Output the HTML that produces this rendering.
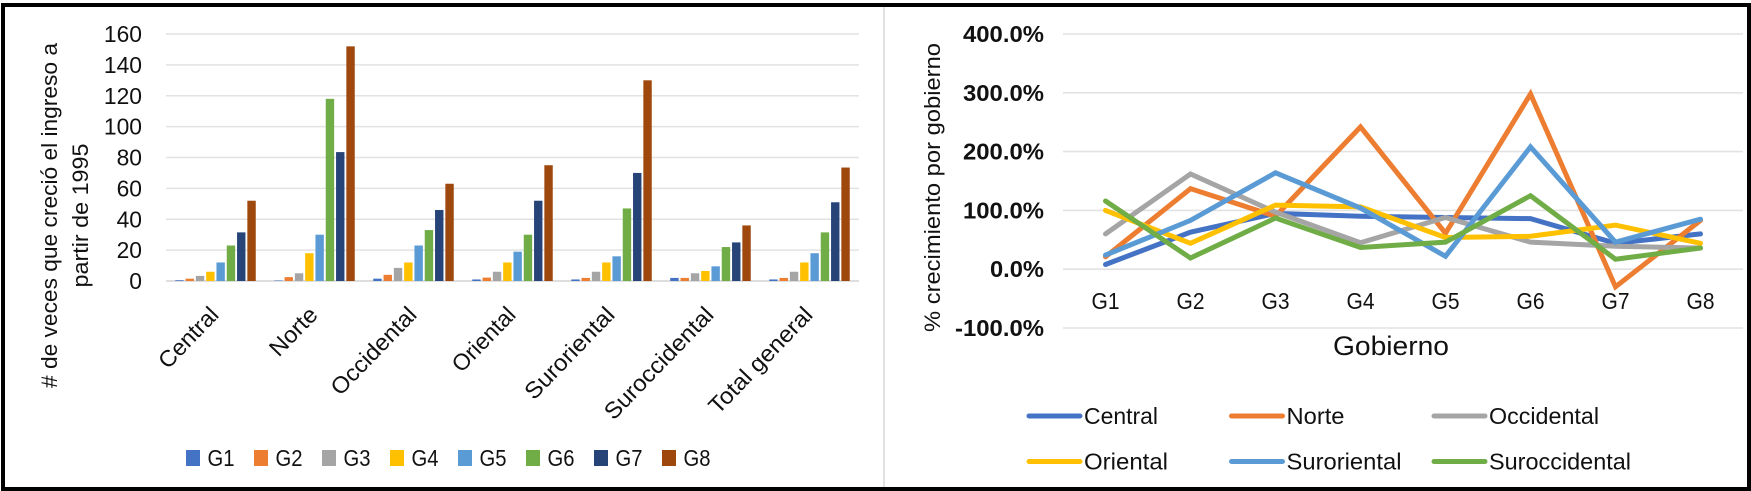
<!DOCTYPE html>
<html lang="es">
<head>
<meta charset="utf-8">
<title>Crecimiento del ingreso</title>
<style>
html,body{margin:0;padding:0;background:#fff;width:1751px;height:491px;overflow:hidden}
svg{display:block;font-family:"Liberation Sans",sans-serif;filter:blur(0.35px)}
text{fill:#111}
</style>
</head>
<body>
<svg id="root" width="1751" height="491" viewBox="0 0 1751 491">
  <rect x="0" y="0" width="1751" height="491" fill="#fff"/>
  <rect x="883" y="7" width="2" height="480" fill="#e2e2e2"/>
  <g id="bars"></g>
  <g id="lines"></g>
  <path d="M3 5H1749V489H3Z" fill="none" stroke="#000" stroke-width="4"/>
</svg>
<script>
// ---- bar chart data ----
const barCategories = ["Central","Norte","Occidental","Oriental","Suroriental","Suroccidental","Total general"];
const barSeriesNames = ["G1","G2","G3","G4","G5","G6","G7","G8"];
const barG1 = [0.5,0.3,1.5,1,1,2,1];
const barG2 = [1.5,2.5,4,2.2,2,2,2];
const barG3 = [3.3,5,8.5,6,6,5,6];
const barG4 = [6,18,12,12,12,6.5,12];
const barG5 = [12,30,23,19,16,9.5,18];
const barG6 = [23,118,33,30,47,22,31.5];
const barG7 = [31.5,83.5,46,52,70,25,51];
const barG8 = [52,152,63,75,130,36,73.5];
const barTicks = [0,20,40,60,80,100,120,140,160];
const barAxisTitleLine1 = "# de veces que creció el ingreso a";
const barAxisTitleLine2 = "partir de 1995";

// ---- line chart data ----
const lineCategories = ["G1","G2","G3","G4","G5","G6","G7","G8"];
const lineCentral = [8,63,95,90,88,86,44,60];
const lineNorte = [21,137,90,242,61,298,-30,83];
const lineOccidental = [60,162,97,45,88,46,39,36];
const lineOriental = [100,44,109,106,54,56,75,44];
const lineSuroriental = [24,83,164,104,22,208,46,85];
const lineSuroccidental = [116,19,87,37,46,125,17,36];
const lineTicks = [-100,0,100,200,300,400];
const lineNames = ["Central","Norte","Occidental","Oriental","Suroriental","Suroccidental"];
const lineAxisTitle = "% crecimiento por gobierno";
const lineXTitle = "Gobierno";

const barSeries = [barG1,barG2,barG3,barG4,barG5,barG6,barG7,barG8];
const lineSeries = [lineCentral,lineNorte,lineOccidental,lineOriental,lineSuroriental,lineSuroccidental];
const barColors = ["#4472c4","#ed7d31","#a5a5a5","#ffc000","#5b9bd5","#70ad47","#264478","#9e480e"];
const lineColors = ["#4472c4","#ed7d31","#a5a5a5","#ffc000","#5b9bd5","#70ad47"];

const NS = "http://www.w3.org/2000/svg";
function make(parent, tag, attrs, txt) {
  const el = document.createElementNS(NS, tag);
  for (const k in attrs) el.setAttribute(k, attrs[k]);
  if (txt !== undefined) el.textContent = txt;
  parent.appendChild(el);
  return el;
}

// ---- bar chart axes ----
const barPlot = {left:166, right:859, top:34, bottom:281, max:160};
function barY(v){ return barPlot.bottom - (v / barPlot.max) * (barPlot.bottom - barPlot.top); }
function barBand(){ return (barPlot.right - barPlot.left) / barCategories.length; }
function barCenter(i){ return barPlot.left + barBand() * (i + 0.5); }
function barX(i, s){ return barCenter(i) + (s - (barSeries.length - 1) / 2) * 10.3; }

const gb = document.getElementById("bars");
barTicks.forEach(function(t){
  const line = make(gb, "line", {x1:barPlot.left, x2:barPlot.right, y1:barY(t), y2:barY(t), stroke:t === 0 ? "#d4d4d4" : "#e2e2e2", "stroke-width":1.6});
  
  
  const lab = make(gb, "text", {x:142, y:barY(t) + 8, "text-anchor":"end", "font-size":23, textLength:String(t).length * 12.7, lengthAdjust:"spacingAndGlyphs"}, t);
  
  
});
barSeries.forEach(function(vals, s){
  vals.forEach(function(v, i){
    const r = make(gb, "rect", {x:barX(i, s) - 4.2, y:barY(v), width:8.4, height:barY(0) - barY(v), fill:barColors[s]});
    
    
  });
});
const catLen = [75,58,112,80,118,146,138];
barCategories.forEach(function(c, i){
  const x = barCenter(i) + 4.5, y = 316;
  const t = make(gb, "text", {x:x, y:y, "text-anchor":"end", "font-size":23, transform:"rotate(-46 " + x + " " + y + ")", textLength:catLen[i], lengthAdjust:"spacingAndGlyphs"}, c);
  
  
});
const bt1 = make(gb, "text", {x:0, y:0, "text-anchor":"middle", "font-size":22, transform:"translate(57 215.5) rotate(-90)", textLength:345, lengthAdjust:"spacingAndGlyphs"}, barAxisTitleLine1);


const bt2 = make(gb, "text", {x:0, y:0, "text-anchor":"middle", "font-size":22, transform:"translate(88 215.5) rotate(-90)", textLength:144, lengthAdjust:"spacingAndGlyphs"}, barAxisTitleLine2);


barSeriesNames.forEach(function(n, s){
  const x = 186 + s * 68;
  const sw = make(gb, "rect", {x:x, y:450, width:14, height:16, fill:barColors[s]});
  
  
  const t = make(gb, "text", {x:x + 21.5, y:466, "font-size":23, textLength:27, lengthAdjust:"spacingAndGlyphs"}, n);
  
  
});

// ---- line chart axes ----
const linePlot = {left:1063, right:1743, top:34, bottom:328, min:-100, max:400};
function lineY(v){ return linePlot.bottom - ((v - linePlot.min) / (linePlot.max - linePlot.min)) * (linePlot.bottom - linePlot.top); }
function lineX(i){ return linePlot.left + (linePlot.right - linePlot.left) / lineCategories.length * (i + 0.5); }

const gl = document.getElementById("lines");
lineTicks.forEach(function(t){
  const line = make(gl, "line", {x1:linePlot.left, x2:linePlot.right, y1:lineY(t), y2:lineY(t), stroke:"#e2e2e2", "stroke-width":1.6});
  
  
  const s = t.toFixed(1) + "%";
  const lab = make(gl, "text", {x:1044, y:lineY(t) + 8, "text-anchor":"end", "font-size":23, "font-weight":"bold", fill:"#000", textLength:t < 0 ? 89 : (t === 0 ? 54 : 81), lengthAdjust:"spacingAndGlyphs"}, s);
  
  
});
lineCategories.forEach(function(c, i){
  const t = make(gl, "text", {x:lineX(i), y:309, "text-anchor":"middle", "font-size":23, textLength:28, lengthAdjust:"spacingAndGlyphs"}, c);
  
  
});
lineSeries.forEach(function(vals, s){
  const pts = vals.map(function(v, i){ return lineX(i) + "," + lineY(v); }).join(" ");
  const p = make(gl, "polyline", {points:pts, fill:"none", stroke:lineColors[s], "stroke-width":5, "stroke-linecap":"round", "stroke-linejoin":"miter"});
  
  
});
const lt = make(gl, "text", {x:0, y:0, "text-anchor":"middle", "font-size":22, transform:"translate(940 187.5) rotate(-90)", textLength:289, lengthAdjust:"spacingAndGlyphs"}, lineAxisTitle);


const lx = make(gl, "text", {x:1391, y:355, "text-anchor":"middle", "font-size":27, textLength:116, lengthAdjust:"spacingAndGlyphs"}, lineXTitle);


const legW = [74,58,110,84,115,142];
lineNames.forEach(function(n, s){
  const col = s % 3, row = Math.floor(s / 3);
  const x = 1029 + col * 202.5, y = 416 + row * 45.5;
  const ln = make(gl, "line", {x1:x, x2:x + 51, y1:y, y2:y, stroke:lineColors[s], "stroke-width":5, "stroke-linecap":"round"});
  
  
  const t = make(gl, "text", {x:x + 55, y:y + 8, "font-size":23, textLength:legW[s], lengthAdjust:"spacingAndGlyphs"}, n);
  
  
});
</script>
</body>
</html>
